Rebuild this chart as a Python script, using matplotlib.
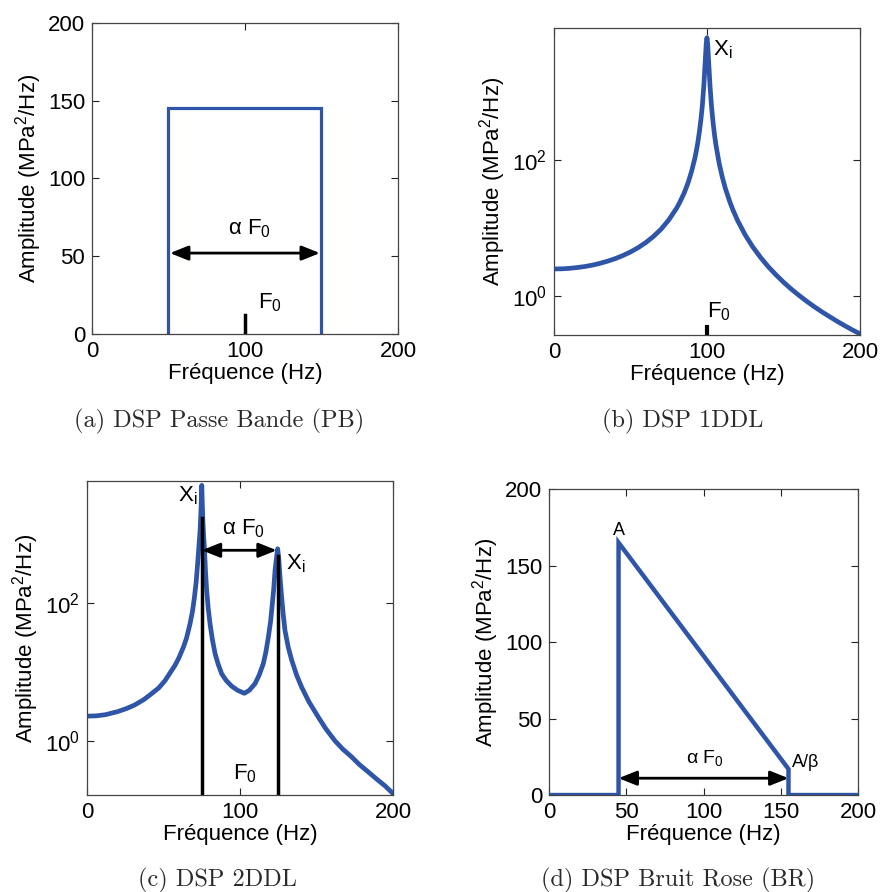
import numpy as np
import matplotlib
matplotlib.use('Agg')
import matplotlib.pyplot as plt

plt.rcParams['font.family'] = ['Liberation Sans', 'DejaVu Sans']
plt.rcParams['mathtext.default'] = 'regular'

BLUE = '#2f55a8'

# (a) DSP passe bande
pb_freq = [50, 50, 150, 150]
pb_amp = [0, 145, 145, 0]

# (b) DSP 1DDL
ddl1_freq = [0, 5, 10, 15, 20, 25, 30, 35, 40, 45, 50, 55, 60, 65, 70, 75, 80, 82, 85, 87, 88,
             90, 92, 93, 94, 95, 96, 97, 98, 99, 99.5, 100, 100.5, 101, 102, 103, 104, 105, 106,
             108, 110, 112, 115, 117, 120, 125, 130, 135, 140, 145, 150, 155, 160, 165, 170,
             175, 180, 185, 190, 195, 200]
ddl1_amp = [2.5, 2.51, 2.55, 2.62, 2.71, 2.84, 3.02, 3.25, 3.54, 3.93, 4.44, 5.14, 6.1, 7.5,
            9.6, 13.1, 19.3, 23.3, 32.3, 42.1, 48.8, 68.7, 104, 134, 179, 254, 383, 636, 1280,
            3180, 5040, 6250, 4960, 3080, 1220, 605, 353, 228, 159, 88.8, 56.2, 38.4, 24, 18.4,
            12.9, 7.9, 5.25, 3.7, 2.71, 2.06, 1.6, 1.27, 1.03, 0.843, 0.70, 0.588, 0.50, 0.426,
            0.367, 0.318, 0.278]

# (c) DSP 2DDL
ddl2_freq = [0, 6, 12, 20, 26, 31, 37, 42, 47, 51, 54, 57.5, 60, 63, 65, 67.3, 69, 70.2, 71.3,
             72.3, 73.2, 73.9, 74.5, 75, 75.6, 76.2, 76.7, 77.4, 78.2, 79.2, 80.4, 82, 83.7,
             85.7, 88, 91, 94.6, 98.5, 102.8, 106, 109.8, 112.5, 115.2, 117, 118.5, 120, 121.1,
             122, 122.9, 123.8, 124.6, 125.3, 126.2, 127.2, 128.2, 129.4, 131.5, 133.8, 137,
             140.3, 145, 151.2, 156, 162, 167, 173, 178, 183.9, 189, 194.8, 200]
ddl2_amp = [2.28, 2.3, 2.39, 2.65, 2.95, 3.3, 3.95, 4.8, 5.9, 7.5, 9.5, 12.5, 16, 23, 31, 50,
            78, 123, 200, 380, 700, 1150, 2300, 5200, 1800, 950, 660, 300, 155, 85, 50, 29,
            18.5, 13, 9.4, 7.5, 6.2, 5.4, 4.9, 5.4, 6.76, 9, 13.2, 20, 32, 55, 98, 160, 302,
            450, 620, 450, 230, 123, 70, 40, 23, 14.8, 9, 6.0, 3.7, 2.2, 1.5, 1.0, 0.76, 0.58,
            0.45, 0.35, 0.28, 0.22, 0.17]

# (d) DSP bruit rose
br_freq = [0, 45, 45, 155, 155, 200]
br_amp = [0, 0, 165, 17, 0, 0]

captions = ['(a) DSP Passe Bande (PB)', '(b) DSP 1DDL', '(c) DSP 2DDL', '(d) DSP Bruit Rose (BR)']

fig = plt.figure(figsize=(8.81, 8.92), dpi=100)

ax_a = fig.add_axes([0.1044, 0.6256, 0.3473, 0.3487])
ax_b = fig.add_axes([0.6288, 0.6244, 0.3473, 0.3442])
ax_c = fig.add_axes([0.0988, 0.1087, 0.3473, 0.3520])
ax_d = fig.add_axes([0.6232, 0.1087, 0.3507, 0.3430])

FS = 16


def style(ax):
    ax.tick_params(direction='in', top=True, right=True, length=5, width=0.8,
                   labelsize=FS, pad=5, colors='#222222', labelcolor='black')
    ax.tick_params(which='minor', length=0)
    for s in ax.spines.values():
        s.set_color('#444444')
        s.set_linewidth(0.9)
    ax.set_xlabel('Fréquence (Hz)', fontsize=FS, labelpad=1)
    ax.set_ylabel('Amplitude (MPa$^2$/Hz)', fontsize=FS, labelpad=3)


def dbl_arrow(ax, x0, x1, y):
    ax.annotate('', xy=(x1, y), xytext=(x0, y),
                arrowprops=dict(arrowstyle='<|-|>,head_length=0.55,head_width=0.22',
                                color='black', lw=2, mutation_scale=20,
                                shrinkA=0, shrinkB=0))


# --- (a)
ax = ax_a
ax.plot(pb_freq, pb_amp, color=BLUE, lw=2.3, solid_joinstyle='miter')
ax.plot([100, 100], [0, 12], color='black', lw=2.5)
dbl_arrow(ax, 51, 149, 52)
ax.text(103, 68, 'α F$_0$', fontsize=FS, ha='center', va='center')
ax.text(116, 20, 'F$_0$', fontsize=FS, ha='center', va='center')
ax.set_xlim(0, 200)
ax.set_ylim(0, 200)
ax.set_xticks([0, 100, 200])
ax.set_yticks([0, 50, 100, 150, 200])
style(ax)

# --- (b)
ax = ax_b
ax.semilogy(ddl1_freq, ddl1_amp, color=BLUE, lw=3.4)
ax.plot([100, 100], [0.27, 0.35], color='black', lw=3)
ax.text(104, 4200, 'X$_i$', fontsize=FS, ha='left', va='center')
ax.text(108, 0.58, 'F$_0$', fontsize=FS, ha='center', va='center')
ax.set_xlim(0, 200)
ax.set_ylim(0.267, 8700)
ax.set_xticks([0, 100, 200])
ax.set_yticks([1, 100])
ax.set_yticklabels(['10$^0$', '10$^2$'])
style(ax)

# --- (c)
ax = ax_c
ax.semilogy(ddl2_freq, ddl2_amp, color=BLUE, lw=3.4)
ax.plot([75, 75], [0.16, 1730], color='black', lw=2.5)
ax.plot([125, 125], [0.16, 480], color='black', lw=2.5)
dbl_arrow(ax, 75, 124, 590)
ax.text(102, 1230, 'α F$_0$', fontsize=FS, ha='center', va='center')
ax.text(72, 3700, 'X$_i$', fontsize=FS, ha='right', va='center')
ax.text(130, 380, 'X$_i$', fontsize=FS, ha='left', va='center')
ax.text(103, 0.33, 'F$_0$', fontsize=FS, ha='center', va='center')
ax.set_xlim(0, 200)
ax.set_ylim(0.162, 6000)
ax.set_xticks([0, 100, 200])
ax.set_yticks([1, 100])
ax.set_yticklabels(['10$^0$', '10$^2$'])
style(ax)

# --- (d)
ax = ax_d
ax.plot(br_freq, br_amp, color=BLUE, lw=3.2, solid_joinstyle='miter')
dbl_arrow(ax, 45, 155, 11)
ax.text(101, 24, 'α F$_0$', fontsize=FS - 2, ha='center', va='center')
ax.text(45, 173, 'A', fontsize=FS - 3, ha='center', va='center')
ax.text(166, 21, 'A/β', fontsize=FS - 3, ha='center', va='center')
ax.set_xlim(0, 200)
ax.set_ylim(0, 200)
ax.set_xticks([0, 50, 100, 150, 200])
ax.set_yticks([0, 50, 100, 150, 200])
style(ax)

# sub captions
cap_pos = [(219, 421), (683, 421), (217, 880), (678, 880)]
for cap, (px, py) in zip(captions, cap_pos):
    fig.text(px / 881, 1 - py / 892, cap, fontsize=17.5, family='cmr10',
             color='#2a2a2a', ha='center', va='center')

fig.savefig('out.png', dpi=100)
